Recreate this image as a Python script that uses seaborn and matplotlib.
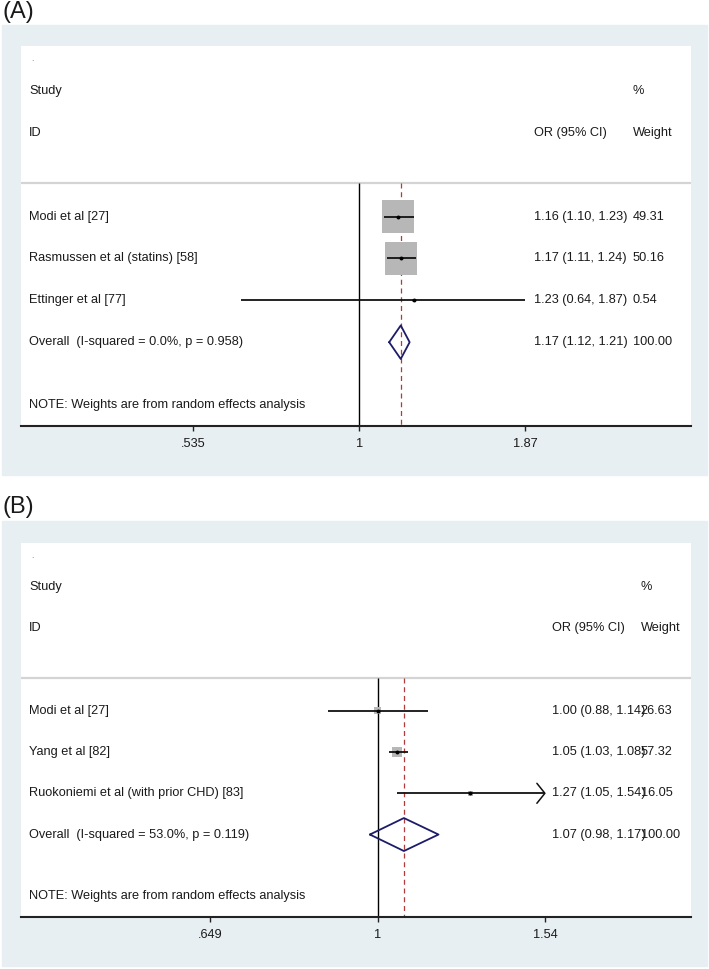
import numpy as np
import pandas as pd
import matplotlib.pyplot as plt
import matplotlib.patches as mpatches
import seaborn as sns

# dados do painel A
estudos_a = ["Modi et al [27]", "Rasmussen et al (statins) [58]", "Ettinger et al [77]"]
or_a = [1.16, 1.17, 1.23]
li_a = [1.10, 1.11, 0.64]
ls_a = [1.23, 1.24, 1.87]
peso_a = [49.31, 50.16, 0.54]
overall_a = [1.17, 1.12, 1.21]
peso_overall_a = 100.00
overall_txt_a = "Overall  (I-squared = 0.0%, p = 0.958)"
ticks_a = [0.535, 1, 1.87]
ticklabels_a = [".535", "1", "1.87"]

# dados do painel B
estudos_b = ["Modi et al [27]", "Yang et al [82]", "Ruokoniemi et al (with prior CHD) [83]"]
or_b = [1.00, 1.05, 1.27]
li_b = [0.88, 1.03, 1.05]
ls_b = [1.14, 1.08, 1.54]
peso_b = [26.63, 57.32, 16.05]
seta_b = [False, False, True]
overall_b = [1.07, 0.98, 1.17]
peso_overall_b = 100.00
overall_txt_b = "Overall  (I-squared = 53.0%, p = 0.119)"
ticks_b = [0.649, 1, 1.54]
ticklabels_b = [".649", "1", "1.54"]

nota = "NOTE: Weights are from random effects analysis"

sns.set_style("white")
plt.rcParams['font.family'] = ['Liberation Sans', 'DejaVu Sans']

FS = 9.15
COR_TXT = '#1a1a1a'


def forest(ax, estudos, est, li, ls, peso, overall, peso_overall, overall_txt, ticks,
           ticklabels, xlim, k_box, col_or, col_w, seta=None, px_log=265, px_linha=42):
    n = len(estudos)
    df = pd.DataFrame({'estudo': estudos, 'or': est, 'li': li, 'ls': ls,
                       'peso': peso, 'linha': np.arange(1, n + 1)})
    ax.set_xscale('log')
    ax.set_xlim(*xlim)
    ax.set_ylim(6.0, -3.07)
    ax.set_facecolor('white')

    # linha do cabecalho, linha do 1 e linha tracejada do efeito geral
    ax.axhline(0.2, color='#d4d4d4', lw=1.6, zorder=1)
    ax.vlines(1, 0.2, 6.0, color='black', lw=1.0, zorder=2)
    ax.vlines(overall[0], 0.2, 6.0, color='#b33a3a', lw=0.9,
              linestyles=(0, (4, 3)), zorder=2)

    # caixas com tamanho pelo peso
    sns.scatterplot(data=df, x='or', y='linha', marker='s', s=df['peso'] * k_box,
                    color='#b7b7b7', linewidth=0, ax=ax, legend=False, zorder=3)
    ax.hlines(df['linha'], df['li'], df['ls'], color='#111111', lw=1.3, zorder=4)
    sns.scatterplot(data=df, x='or', y='linha', marker='o', s=8,
                    color='black', linewidth=0, ax=ax, legend=False, zorder=5)

    # seta quando o IC passa do limite
    if seta is not None:
        f = np.exp(8 / px_log)
        dy = 10 / px_linha
        for i in range(n):
            if seta[i]:
                ax.plot([ls[i] / f, ls[i], ls[i] / f], [i + 1 - dy, i + 1, i + 1 + dy],
                        color='#111111', lw=1.1, zorder=4)

    # diamante do efeito geral
    r = n + 1
    ax.plot([overall[1], overall[0], overall[2], overall[0], overall[1]],
            [r, r - 0.4, r, r + 0.4, r], color='#1c1c6a', lw=1.3, zorder=5)

    tr = ax.get_yaxis_transform()
    kw = dict(transform=tr, va='center', fontsize=FS, color=COR_TXT)
    ax.text(0.015, -2.75, '.', transform=tr, va='center', fontsize=6, color='#666666')
    ax.text(0.012, -2, 'Study', **kw)
    ax.text(0.012, -1, 'ID', **kw)
    ax.text(col_or, -1, 'OR (95% CI)', **kw)
    ax.text(col_w, -2, '%', **kw)
    ax.text(col_w, -1, 'Weight', **kw)
    for i in range(n):
        ax.text(0.012, i + 1, estudos[i], **kw)
        ax.text(col_or, i + 1, f"{est[i]:.2f} ({li[i]:.2f}, {ls[i]:.2f})", **kw)
        ax.text(col_w, i + 1, f"{peso[i]:.2f}", **kw)
    ax.text(0.012, r, overall_txt, **kw)
    ax.text(col_or, r, f"{overall[0]:.2f} ({overall[1]:.2f}, {overall[2]:.2f})", **kw)
    ax.text(col_w, r, f"{peso_overall:.2f}", **kw)
    ax.text(0.012, 5.5, nota, **kw)

    # eixo x
    for s in ['top', 'left', 'right']:
        ax.spines[s].set_visible(False)
    ax.spines['bottom'].set_color('#222222')
    ax.spines['bottom'].set_linewidth(1.5)
    ax.set_xticks(ticks)
    ax.set_xticklabels(ticklabels)
    ax.xaxis.set_minor_locator(plt.NullLocator())
    ax.set_yticks([])
    ax.set_xlabel('')
    ax.set_ylabel('')
    ax.tick_params(axis='x', bottom=True, direction='out', length=3.6, width=1,
                   pad=5, labelsize=FS, labelcolor=COR_TXT, color='#222222')


W, H = 709, 969
fig = plt.figure(figsize=(W / 100, H / 100), dpi=100)

# fundo azul claro de cada painel
for y0, y1 in [(25, 475), (521, 966)]:
    fig.patches.append(mpatches.Rectangle((2 / W, 1 - y1 / H), 705 / W, (y1 - y0) / H,
                                          transform=fig.transFigure, color='#e8eff2',
                                          zorder=-1))

ax_a = fig.add_axes([21 / W, 1 - 426 / H, 670 / W, 380 / H])
forest(ax_a, estudos_a, or_a, li_a, ls_a, peso_a, overall_a, peso_overall_a, overall_txt_a,
       ticks_a, ticklabels_a, (0.279, 3.50), 10.8, 0.766, 0.913)

ax_b = fig.add_axes([21 / W, 1 - 917 / H, 670 / W, 374 / H])
forest(ax_b, estudos_b, or_b, li_b, ls_b, peso_b, overall_b, peso_overall_b, overall_txt_b,
       ticks_b, ticklabels_b, (0.398, 2.246), 0.9, 0.793, 0.925,
       seta=seta_b, px_log=387, px_linha=41.3)

fig.text(2 / W, 1 - 1 / H, '(A)', va='top', fontsize=17, color=COR_TXT)
fig.text(2 / W, 1 - 496 / H, '(B)', va='top', fontsize=17, color=COR_TXT)

plt.savefig('out.png', dpi=100)
